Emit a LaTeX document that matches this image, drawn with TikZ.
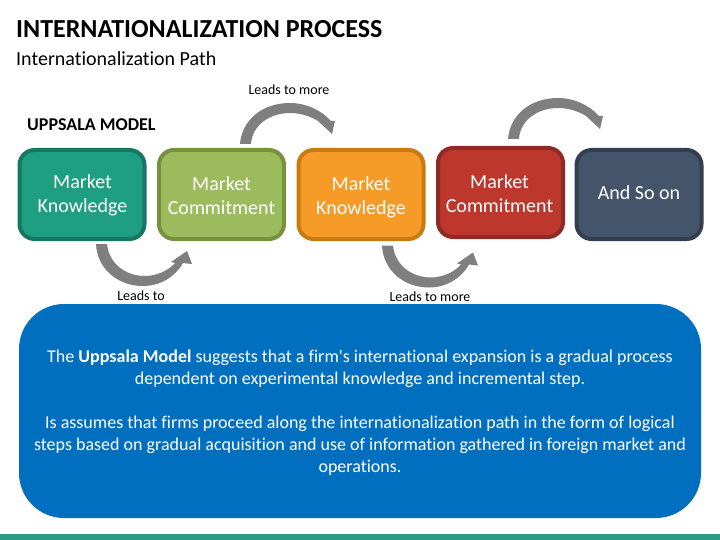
\documentclass[tikz,border=0pt]{standalone}
\usepackage{fontspec}
\setmainfont{Carlito}[Ligatures=NoCommon]
\newfontfamily\plainfont{Carlito}[Ligatures=NoCommon]
\definecolor{teal1}{HTML}{1F9F82}\definecolor{teal2}{HTML}{167763}
\definecolor{green1}{HTML}{9BBB5D}\definecolor{green2}{HTML}{76923C}
\definecolor{orange1}{HTML}{F69A28}\definecolor{orange2}{HTML}{C97A10}
\definecolor{red1}{HTML}{BD372D}\definecolor{red2}{HTML}{8E2B24}
\definecolor{navy1}{HTML}{44546A}\definecolor{navy2}{HTML}{333F50}
\definecolor{panelblue}{HTML}{006FBF}\definecolor{bargreen}{HTML}{2A9D82}
\definecolor{arrowgray}{HTML}{7F7F7F}
\newcommand{\fsz}[1]{\fontsize{#1}{#1}\selectfont}
\tikzset{
  stepbox/.style={draw=#1, line width=4pt, rounded corners=15pt, minimum width=125pt, minimum height=89pt, inner sep=0pt},
  steptext/.style={text=white, align=center, inner sep=0pt, font=\fontsize{20}{24}\selectfont},
  lab/.style={font=\fsz{14}, text=black, inner sep=0pt},
  bent/.style={fill=arrowgray, draw=none},
  bentlow/.pic={\fill[bent] (96,244) -- (107,244) .. controls (109,264) and (126,276) .. (145,276)
     .. controls (156,276) and (168,271) .. (175,263) -- (171,262) -- (187,251) -- (192,264) -- (183,263)
     .. controls (175,277) and (160,286) .. (143,286) .. controls (117,286) and (97,268) .. (96,244) -- cycle;},
  benthigh/.pic={\fill[bent] (240,144) -- (251,144) .. controls (252,125) and (270,113) .. (290,113)
     .. controls (300,113) and (310,116) .. (318,121) -- (332,134) -- (335,121) -- (331,121)
     .. controls (321,110) and (306,103) .. (290,103) .. controls (262,103) and (242,120) .. (240,144) -- cycle;}
}
\begin{document}
\begin{tikzpicture}[x=1pt,y=-1pt]
\useasboundingbox (0,0) rectangle (720,540);
\fill[white] (0,0) rectangle (720,540);
\node[anchor=west,inner sep=0pt,font=\fsz{26}\bfseries] (title) at (16,29) {INTERNATIONALIZATION PROCESS};
\node[anchor=west,inner sep=0pt,font=\fsz{20}] (sub) at (16,59) {Internationalization Path};
\node[anchor=west,inner sep=0pt,font=\fsz{18}\bfseries] (model) at (27,125) {UPPSALA MODEL};
\node[stepbox=teal2, fill=teal1] (b1) at (82,194.5) {};
\node[stepbox=green2, fill=green1] (b2) at (221.5,194.5) {};
\node[stepbox=orange2, fill=orange1] (b3) at (361,194.5) {};
\node[stepbox=red2, fill=red1] (b4) at (500.5,192.5) {};
\node[stepbox=navy2, fill=navy1] (b5) at (639,194.5) {};
\node[steptext] (t1) at (82.5,195.5) {Market\\Knowledge};
\node[steptext] (t2) at (221.5,195.5) {Market\\Commitment};
\node[steptext] (t3) at (361,197.5) {Market\\Knowledge};
\node[steptext] (t4) at (499.5,193.5) {Market\\Commitment};
\node[steptext] (t5) at (639,193) {And So on};
\pic at (0,0) {bentlow};
\pic at (286,1.5) {bentlow};
\pic at (0,0) {benthigh};
\pic at (268,-5) {benthigh};
\node[lab] (l1) at (289,90) {Leads to more};
\node[lab] (l2) at (141,296) {Leads to};
\node[lab] (l3) at (430,297) {Leads to more};
\path[fill=panelblue,rounded corners=45pt] (19,304) -- (701,304) -- (701,518) -- (19,518) -- cycle;
\node[text=white,align=center,inner sep=0pt,font=\fontsize{18}{22}\selectfont] (body) at (360,412.5)
 {The \textbf{Uppsala Model} suggests that a firm{\plainfont\char"27}s international expansion is a gradual process\\
  dependent on experimental knowledge and incremental step.\\[22pt]
  Is assumes that firms proceed along the internationalization path in the form of logical\\
  steps based on gradual acquisition and use of information gathered in foreign market and\\
  operations.};
\fill[bargreen] (0,534) rectangle (720,540);
\end{tikzpicture}
\end{document}
